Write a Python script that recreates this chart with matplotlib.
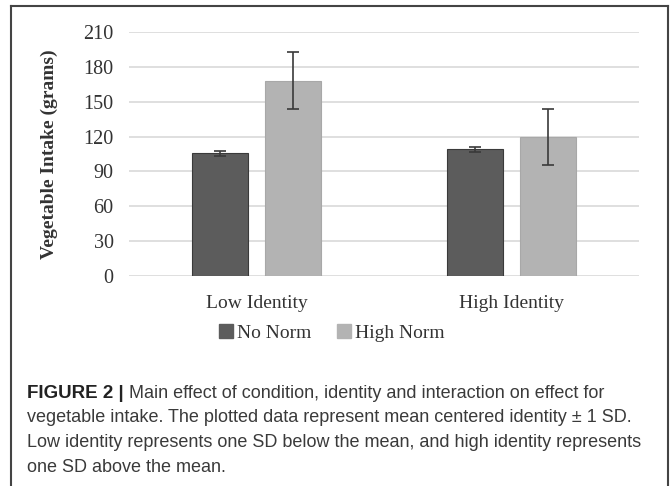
import matplotlib.pyplot as plt
import numpy as np
from matplotlib.patches import Rectangle
from matplotlib.lines import Line2D

# data
groups = ['Low Identity', 'High Identity']
series = ['No Norm', 'High Norm']
no_norm = [105.6, 109.0]
no_norm_sd = [2.2, 2.3]
high_norm = [168.2, 119.6]
high_norm_sd = [24.2, 24.0]
yticks = [0, 30, 60, 90, 120, 150, 180, 210]

caption_bold = 'FIGURE 2 |'
caption_first = ' Main effect of condition, identity and interaction on effect for'
caption_rest = ['vegetable intake. The plotted data represent mean centered identity \u00b1 1 SD.',
                'Low identity represents one SD below the mean, and high identity represents',
                'one SD above the mean.']

serif = 'Liberation Serif'
sans = 'Liberation Sans'

fig = plt.figure(figsize=(6.7, 4.86), dpi=100)
ax = fig.add_axes([129 / 670, 1 - 276 / 486, 510 / 670, 244 / 486])

x = np.arange(len(groups))
w = 0.22
off = 0.142
dark = '#5c5c5c'
light = '#b3b3b3'

ax.bar(x - off, no_norm, w, color=dark, edgecolor='#3a3a3a', linewidth=0.8, zorder=2)
ax.bar(x + off, high_norm, w, color=light, edgecolor='#a8a8a8', linewidth=0.8, zorder=2)
ax.errorbar(x - off, no_norm, yerr=no_norm_sd, fmt='none', ecolor='#3a3a3a',
            elinewidth=1.2, capsize=4, capthick=1.2, zorder=3)
ax.errorbar(x + off, high_norm, yerr=high_norm_sd, fmt='none', ecolor='#3a3a3a',
            elinewidth=1.2, capsize=4, capthick=1.2, zorder=3)

ax.set_xlim(-0.5, 1.5)
ax.set_ylim(0, 210)
ax.set_yticks(yticks)
ax.set_yticklabels([str(v) for v in yticks], fontfamily=serif, fontsize=14.5, color='#333333')
ax.set_xticks(x)
ax.set_xticklabels(groups, fontfamily=serif, fontsize=14, color='#333333')
ax.tick_params(axis='both', length=0)
ax.tick_params(axis='y', pad=11)
ax.tick_params(axis='x', pad=14)
ax.grid(axis='y', color='#d9d9d9', linewidth=1.2, zorder=0)
ax.set_axisbelow(True)
for s in ax.spines.values():
    s.set_visible(False)
ax.set_ylabel('Vegetable Intake (grams)', fontfamily=serif, fontsize=14,
              fontweight='bold', color='#333333', labelpad=18)

handles = [Rectangle((0, 0), 1, 1, color=dark), Rectangle((0, 0), 1, 1, color=light)]
fig.legend(handles, series, loc='center', bbox_to_anchor=(332 / 670, 1 - 333 / 486),
           ncol=2, frameon=False, handlelength=0.7, handleheight=0.7, handletextpad=0.25,
           columnspacing=1.3, prop={'family': serif, 'size': 14}, labelcolor='#333333')

# caption
tx = 27 / 670
t1 = fig.text(tx, 1 - 393 / 486, caption_bold, fontfamily=sans, fontsize=13.5,
              fontweight='bold', color='#222222', va='center')
fig.canvas.draw()
bb = t1.get_window_extent()
fig.text(bb.x1 / fig.bbox.width, 1 - 393 / 486, caption_first, fontfamily=sans,
         fontsize=13, color='#3a3a3a', va='center')
for i, line in enumerate(caption_rest):
    fig.text(tx, 1 - (418 + 24.7 * i) / 486, line, fontfamily=sans, fontsize=13,
             color='#3a3a3a', va='center')

# frame around figure
frame_col = '#444444'
fig.add_artist(Line2D([11 / 670, 11 / 670], [0, 1 - 6 / 486], color=frame_col, lw=1.5))
fig.add_artist(Line2D([668 / 670, 668 / 670], [0, 1 - 6 / 486], color=frame_col, lw=1.5))
fig.add_artist(Line2D([11 / 670, 668 / 670], [1 - 6 / 486, 1 - 6 / 486], color=frame_col, lw=1.5))

fig.savefig('out.png', dpi=100)
